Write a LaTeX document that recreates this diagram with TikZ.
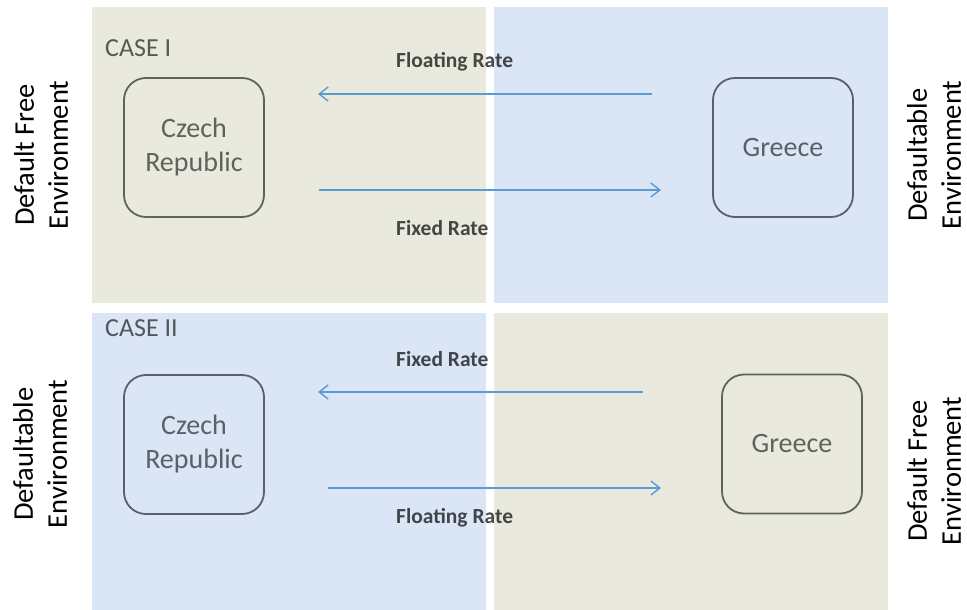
\documentclass[tikz,border=0pt]{standalone}
\usepackage{fontspec}
\setmainfont{Carlito}
\usetikzlibrary{arrows.meta}
\definecolor{panelbeige}{HTML}{E9E9DE}
\definecolor{panelblue}{HTML}{DAE5F6}
\definecolor{flow}{HTML}{5B9BD5}
\begin{document}
\begin{tikzpicture}[x=1pt,y=-1pt,
  country/.style={draw=black, draw opacity=0.58, line width=1.8pt,
    rounded corners=22pt, minimum width=140pt, minimum height=139pt,
    align=center, text=black, text opacity=0.58,
    font=\fontsize{28}{34}\selectfont},
  ratelabel/.style={anchor=base west, inner sep=0pt, text=black,
    text opacity=0.7, font=\bfseries\fontsize{21.5}{25}\selectfont},
  caselabel/.style={anchor=base west, inner sep=0pt, text=black,
    text opacity=0.62, font=\fontsize{26}{30}\selectfont},
  envlabel/.style={rotate=90, align=center, inner sep=0pt,
    font=\fontsize{28.5}{34}\selectfont},
  flowarrow/.style={draw=flow, line width=1.4pt,
    -{Straight Barb[length=9pt,width=14pt]}}]
\useasboundingbox (0,0) rectangle (967,610);

% quadrant backgrounds
\fill[panelbeige] (92,7) rectangle (486,303);
\fill[panelblue] (494,7) rectangle (888,303);
\fill[panelblue] (92,313) rectangle (486,610);
\fill[panelbeige] (494,313) rectangle (888,610);

% case I
\node[caselabel] (case1) at (105,57) {CASE I};
\node[country] (cz1) at (194,147.5) {Czech\\Republic};
\node[country] (gr1) at (783,147.5) {Greece};
\coordinate (f1s) at (652,94);
\coordinate (f1e) at (318,94);
\coordinate (x1s) at (319,190);
\coordinate (x1e) at (661,190);
\draw[flowarrow] (f1s) -- (f1e);
\draw[flowarrow] (x1s) -- (x1e);
\node[ratelabel] (float1) at (396,68) {Floating Rate};
\node[ratelabel] (fixed1) at (396,235) {Fixed Rate};
\node[envlabel] (env1l) at (41,155) {Default Free\\Environment};
\node[envlabel] (env1r) at (934,155) {Defaultable\\Environment};

% case II
\node[caselabel] (case2) at (105,336) {CASE II};
\node[country] (cz2) at (194,444.5) {Czech\\Republic};
\node[country] (gr2) at (792,444) {Greece};
\coordinate (x2s) at (643,392);
\coordinate (x2e) at (318,392);
\coordinate (f2s) at (328,488);
\coordinate (f2e) at (661,488);
\draw[flowarrow] (x2s) -- (x2e);
\draw[flowarrow] (f2s) -- (f2e);
\node[ratelabel] (fixed2) at (396,366) {Fixed Rate};
\node[ratelabel] (float2) at (396,523) {Floating Rate};
\node[envlabel] (env2l) at (40,454) {Defaultable\\Environment};
\node[envlabel] (env2r) at (934,471) {Default Free\\Environment};
\end{tikzpicture}
\end{document}
